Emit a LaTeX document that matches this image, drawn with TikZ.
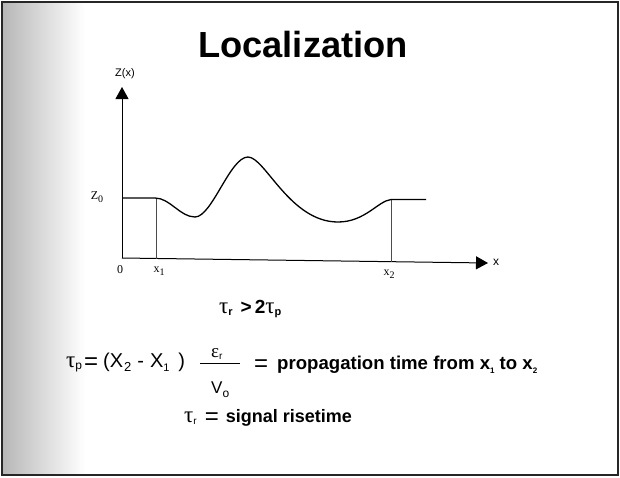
\documentclass[tikz,border=0pt]{standalone}
\usepackage{fontspec}
\setmainfont{Liberation Serif}
\newfontfamily\arial{Liberation Sans}
\usetikzlibrary{arrows.meta}
\newcommand\lo[2][9]{\raisebox{-0.45ex}{\fontsize{#1}{#1}\selectfont #2}}
\newcommand\gtau{{\fontsize{23}{23}\selectfont τ}}
\newcommand\weq{\raisebox{-2.5pt}{\arial\fontsize{24}{24}\selectfont =}}
\tikzset{
  axis/.style={line width=1pt,-{Triangle[length=12pt,width=13pt]}},
  guide/.style={line width=0.6pt,black!70},
  curve/.style={line width=1.3pt},
  lbl/.style={inner sep=0pt,font=\fontsize{12}{12}\selectfont},
  eq/.style={inner sep=0pt,anchor=base west}
}
\begin{document}
\begin{tikzpicture}[x=1pt,y=-1pt]
\useasboundingbox (0,0) rectangle (620,477);
\fill[white] (0,0) rectangle (620,477);
\shade[left color=black!28,right color=white] (3,3) rectangle (85,474);
\fill[white] (85,3) rectangle (617,474);
\draw[line width=1.8pt,black!85] (2,2) rectangle (618,475);
% title
\node[inner sep=0pt,font=\arial\bfseries\fontsize{36.3}{36}\selectfont] (title) at (303,45) {Localization};
% axes
\coordinate (o) at (122,258);
\coordinate (ytop) at (122,87);
\coordinate (xend) at (488,263);
\draw[axis] (o) -- (ytop);
\draw[axis] (o) -- (xend);
\node[lbl,font=\arial\fontsize{11}{11}\selectfont] (zx) at (125,74) {Z(x)};
\node[lbl,font=\arial\fontsize{12}{12}\selectfont] (xl) at (496,262) {x};
\node[lbl] (z0) at (97,197) {Z\lo[10]{0}};
\node[lbl] (zero) at (120,270) {0};
\node[lbl] (x1l) at (159,271) {x\lo[10]{1}};
\node[lbl] (x2l) at (389,274) {x\lo[10]{2}};
% guides
\coordinate (a1) at (156,198);
\coordinate (b1) at (156,258.6);
\coordinate (a2) at (391,199.5);
\coordinate (b2) at (391,261.7);
\draw[guide] (a1) -- (b1);
\draw[guide] (a2) -- (b2);
% curve
\draw[curve] (122,198) -- (155,198)
  .. controls (170,198) and (180,217) .. (195,217)
  .. controls (212,217) and (230,157) .. (248,157)
  .. controls (265,157) and (290,222) .. (338,222)
  .. controls (365,222) and (378,201) .. (391,199.5)
  -- (426,199.5);
% inequality
\node[eq] (ineq) at (219,313) {\gtau\lo[11]{\arial\bfseries r}\hspace{8pt}{\arial\bfseries\fontsize{19}{19}\selectfont >\hspace{3pt}2}\gtau\lo[11]{\arial\bfseries p}};
% tau_p equation
\node[eq] (tp) at (66,367) {\gtau\lo[12]{\arial p}\hspace{2pt}\weq\hspace{5pt}{\arial\fontsize{20}{20}\selectfont (X\hspace{1pt}\lo[13]{2}\hspace{6pt}-\hspace{6pt}X\lo[11]{1}\hspace{9pt})}};
\node[inner sep=0pt,anchor=base west] (eps) at (211,357) {{\fontsize{19}{19}\selectfont ε}\lo[10]{\arial r}};
\coordinate (fl) at (200,363);
\coordinate (fr) at (240,363);
\draw[line width=0.8pt] (fl) -- (fr);
\node[inner sep=0pt,anchor=base west] (vo) at (211,393) {\arial\fontsize{17}{17}\selectfont V\lo[12]{o}};
\node[eq] (prop) at (254,369) {\weq\hspace{9pt}{\arial\bfseries\fontsize{18.6}{18}\selectfont propagation time from x\lo[8]{1} to x\lo[8]{2}}};
\node[eq] (tr) at (184,422) {\gtau\lo[10]{\arial r}\hspace{8pt}\weq\hspace{7pt}{\arial\bfseries\fontsize{18}{18}\selectfont signal risetime}};
\end{tikzpicture}
\end{document}
